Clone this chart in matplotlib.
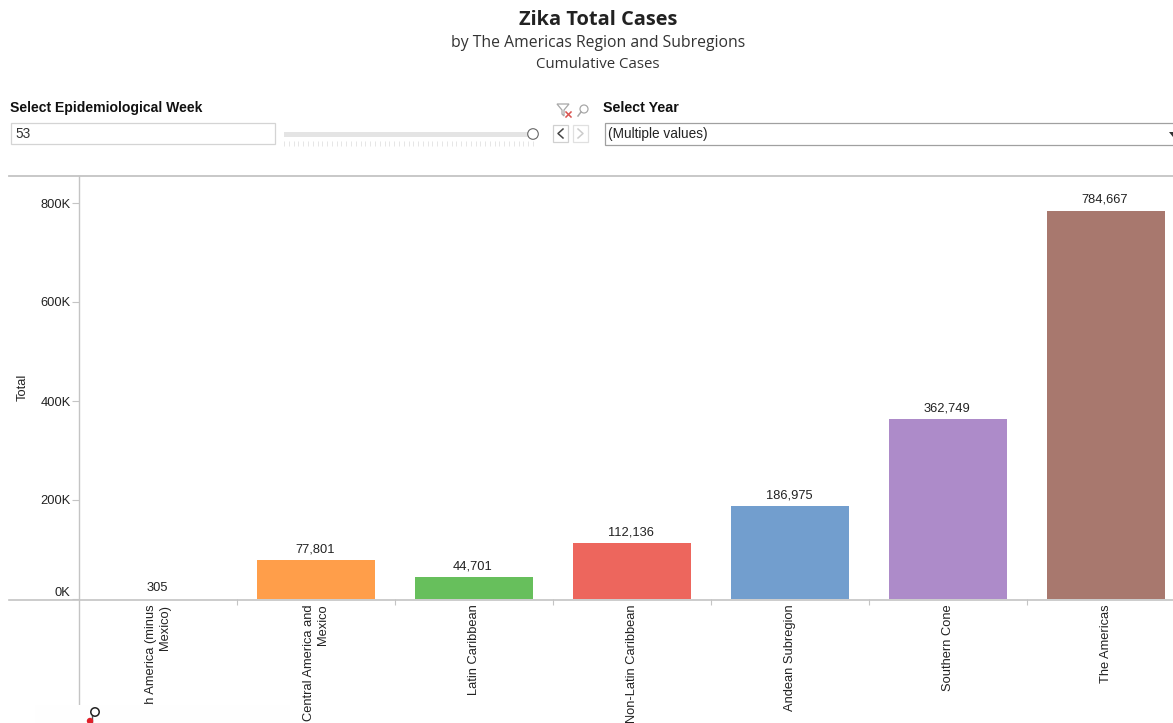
"""Zika total cases by region, bar chart with the dashboard controls above it."""
import numpy as np
import matplotlib
matplotlib.use("Agg")
import matplotlib.pyplot as plt
from matplotlib.patches import Rectangle, Circle, Polygon

plt.rcParams.update({
    "font.family": ["Liberation Sans", "DejaVu Sans"],
    "font.size": 9.3,
    "axes.unicode_minus": False,
})

# ---- data ----
regions = ["North America (minus\nMexico)", "Central America and\nMexico", "Latin Caribbean",
           "Non-Latin Caribbean", "Andean Subregion", "Southern Cone", "The Americas"]
totals = [305, 77801, 44701, 112136, 186975, 362749, 784667]
bar_colors = ["#D8A9A0", "#FF9E4A", "#67BF5C", "#ED665D", "#729ECE", "#AD8BC9", "#A8786E"]
y_ticks = [0, 200000, 400000, 600000, 800000]
y_tick_labels = ["0K", "200K", "400K", "600K", "800K"]
week_ticks = np.arange(1, 54)

W, H = 1173, 723
GRID = "#c4c4c4"
TITLE_FONT = ["Open Sans", "DejaVu Sans"]

fig = plt.figure(figsize=(W / 100, H / 100), dpi=100, facecolor="white")

# ---- chart, placed by pixels ----
left, right, top, bottom = 79, 1173, 176, 599
ax = fig.add_axes([left / W, 1 - bottom / H, (right - left) / W, (bottom - top) / H])
band = 158.0
ax.set_xlim(-0.5, (right - left) / band - 0.5)
ax.set_ylim(0, (bottom - top) / 396 * 800000)

x = np.arange(len(regions))
ax.bar(x, totals, width=118 / band, color=bar_colors, linewidth=0)
for xi, v in zip(x, totals):
    ax.annotate(f"{v:,}", (xi, v), xytext=(-0.7, 3.5), textcoords="offset points",
                ha="center", va="bottom", fontsize=9.3, color="#222222")

for s in ["top", "right", "bottom", "left"]:
    ax.spines[s].set_visible(False)
ax.set_yticks(y_ticks)
ax.set_yticklabels(y_tick_labels, fontsize=9.3, color="#222222")
ax.get_yticklabels()[0].set_va("bottom")
ax.tick_params(axis="y", length=5, width=0.8, color=GRID, pad=1)
ax.set_xticks(x)
ax.set_xticklabels(regions, rotation=90, fontsize=9.3, color="#222222",
                   ha="center", va="top", multialignment="right")
ax.tick_params(axis="x", which="major", length=0, pad=4)
ax.set_xticks(x[:-1] + 0.5, minor=True)
ax.tick_params(axis="x", which="minor", length=4, width=0.8, color=GRID, direction="out")
ax.set_ylabel("Total", fontsize=9.3, color="#222222")
ax.yaxis.set_label_coords((29 - left) / (right - left), (bottom - 387) / (bottom - top))

# ---- controls, overlay in pixel coordinates ----
ov = fig.add_axes([0, 0, 1, 1], zorder=5)
ov.set_xlim(0, W)
ov.set_ylim(H, 0)
ov.axis("off")
ov.patch.set_alpha(0)

ov.text(598, 20, "Zika Total Cases", ha="center", va="center", fontsize=14.4,
        fontweight="bold", family=TITLE_FONT, color="#222222")
ov.text(598, 43, "by The Americas Region and Subregions", ha="center", va="center",
        fontsize=11.3, family=TITLE_FONT, color="#333333")
ov.text(598, 64, "Cumulative Cases", ha="center", va="center", fontsize=10.8,
        family=TITLE_FONT, color="#333333")

ov.text(10, 108, "Select Epidemiological Week", ha="left", va="center", fontsize=10.1,
        fontweight="bold", color="#111111")
ov.text(603, 108, "Select Year", ha="left", va="center", fontsize=10.3,
        fontweight="bold", color="#111111")

# week box and slider
ov.add_patch(Rectangle((11, 123), 264, 21, fc="white", ec="#d4d4d4", lw=0.9))
ov.text(15, 134, "53", ha="left", va="center", fontsize=9.8, color="#333333")
ov.add_patch(Rectangle((284, 132), 246, 5, fc="#e4e4e4", ec="none"))
ov.vlines(np.linspace(284, 533, len(week_ticks)), 141, 146, color="#e6e6e6", lw=0.7)
ov.add_patch(Circle((533, 134), 5.3, fc="white", ec="#666666", lw=0.8, zorder=3))

# filter and search icons
ov.add_patch(Polygon([(557, 104), (569, 104), (564, 110), (564, 116), (562, 114), (562, 110)],
                     closed=True, fc="white", ec="#a8a8a8", lw=0.9))
ov.plot([566, 571], [112, 117], color="#d9534f", lw=1.1)
ov.plot([566, 571], [117, 112], color="#d9534f", lw=1.1)
ov.add_patch(Circle((584, 109), 4, fc="white", ec="#a8a8a8", lw=0.9))
ov.plot([581, 578], [112, 116], color="#a8a8a8", lw=1.1)

# previous / next buttons
ov.add_patch(Rectangle((553, 125), 15, 17, fc="white", ec="#d0d0d0", lw=0.9))
ov.add_patch(Rectangle((573, 125), 15, 17, fc="white", ec="#e0e0e0", lw=0.9))
ov.plot([563, 558, 563], [129, 133.5, 138], color="#444444", lw=1.1)
ov.plot([578, 583, 578], [129, 133.5, 138], color="#cccccc", lw=1.1)

# year dropdown
ov.add_patch(Rectangle((605, 123), 575, 22, fc="white", ec="#a0a0a0", lw=0.9))
ov.text(608, 134, "(Multiple values)", ha="left", va="center", fontsize=9.8, color="#222222")
ov.add_patch(Polygon([(1169, 132), (1173, 132), (1173, 137)], closed=True, fc="#333333", ec="none"))

# chart frame lines
ov.plot([9, W], [176, 176], color=GRID, lw=1.3)
ov.plot([9, W], [599.5, 599.5], color=GRID, lw=1.2)
ov.plot([79, 79], [176, 705], color=GRID, lw=1.0)

# leftover white patch and pointer at the bottom edge
ov.add_patch(Rectangle((35, 705), 255, 18, fc="#fefefe", ec="none", zorder=4))
ov.add_patch(Circle((95, 712), 4.2, fc="white", ec="#222222", lw=1.1, zorder=6))
ov.plot([92, 92], [716, 723], color="#555555", lw=1, zorder=5)
ov.add_patch(Circle((90, 721), 3.2, fc="#e0202a", ec="none", zorder=6))

fig.savefig("out.png", dpi=100)
plt.close(fig)
